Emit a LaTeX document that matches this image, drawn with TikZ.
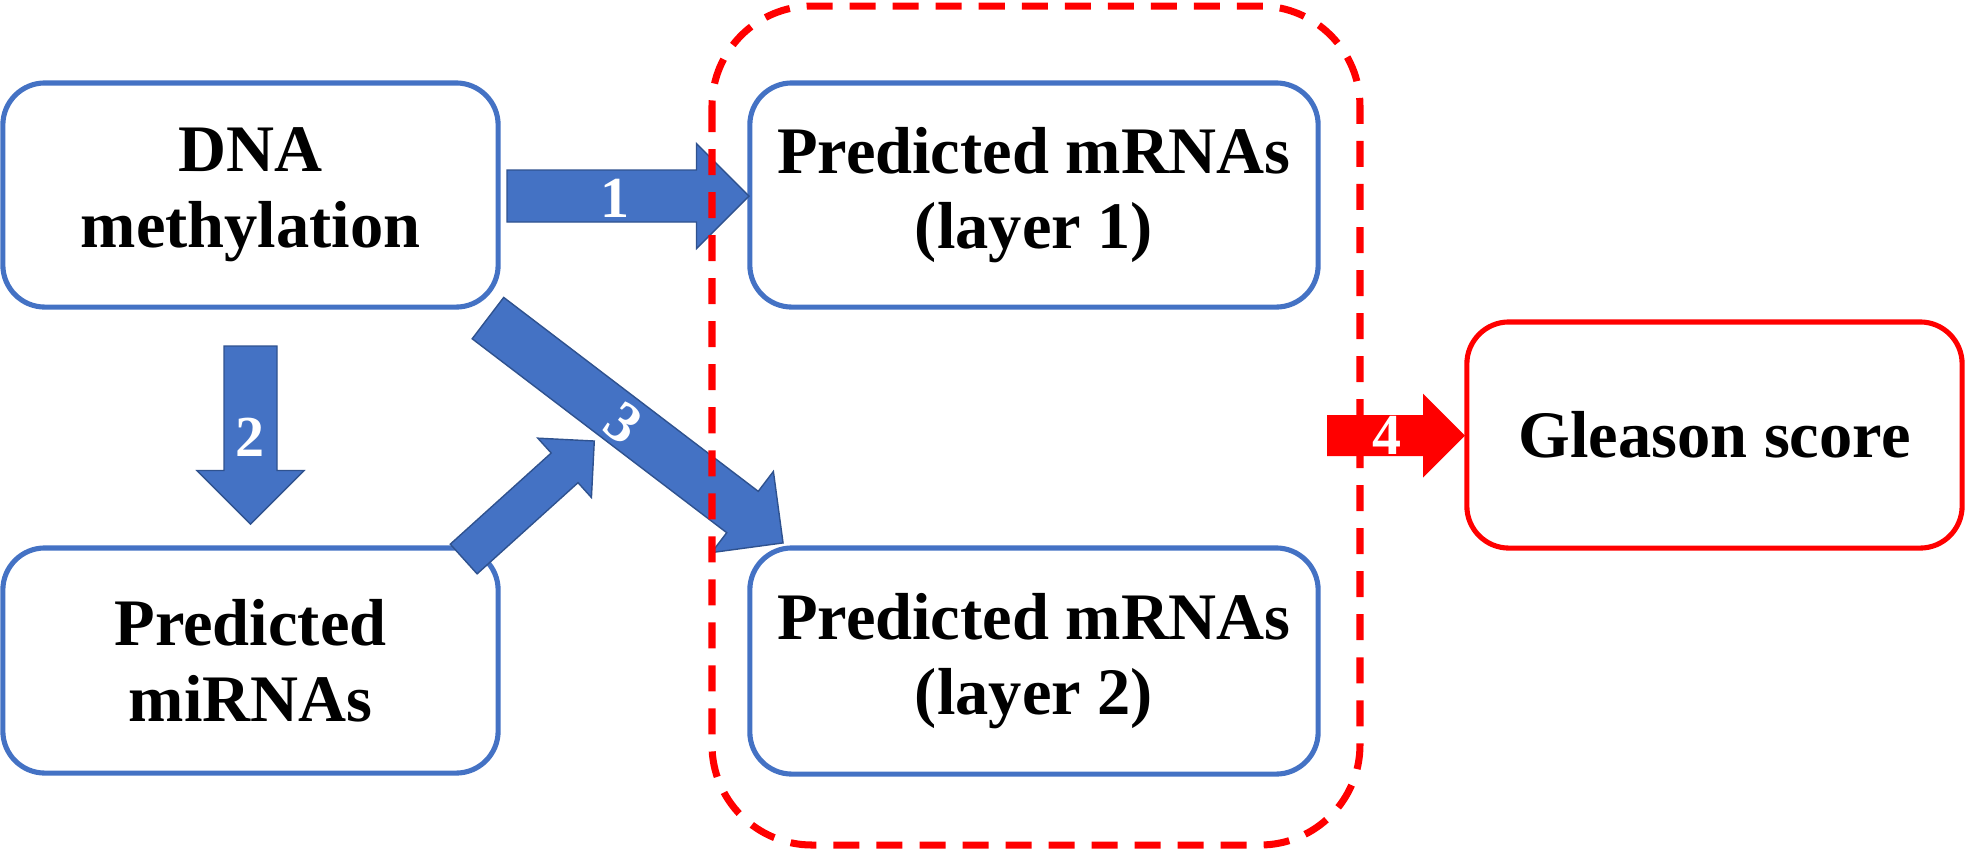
\documentclass[tikz,border=0pt]{standalone}
\usepackage{fontspec}
\setmainfont{Liberation Serif}
\definecolor{boxblue}{HTML}{4472C4}
\definecolor{arrowedge}{HTML}{2F528F}
\definecolor{pptred}{HTML}{FF0000}
\newcommand{\barrow}[7]{% style, cx, cy, angle, length, shaft, head
  \begin{scope}[shift={(#2,#3)},rotate=#4]
    \path[#1] ({-#5/2},{-#6/2}) -- ({#5/2-#7/2},{-#6/2}) -- ({#5/2-#7/2},{-#7/2})
      -- ({#5/2},0) -- ({#5/2-#7/2},{#7/2}) -- ({#5/2-#7/2},{#6/2}) -- ({-#5/2},{#6/2}) -- cycle;
  \end{scope}}
\begin{document}
\begin{tikzpicture}[x=0.01cm,y=-0.01cm,
  txt/.style={font=\bfseries\fontsize{18.9}{21.5}\selectfont, align=center, text=black},
  bbox/.style={txt, draw=boxblue, line width=1.45pt, rounded corners=0.42cm, inner sep=0pt},
  rbox/.style={txt, draw=pptred, line width=1.45pt, rounded corners=0.42cm, inner sep=0pt},
  bluearrow/.style={fill=boxblue, draw=arrowedge, line width=0.4pt},
  redarrow/.style={fill=pptred},
  lab/.style={font=\bfseries\fontsize{16.5}{16.5}\selectfont, text=white, inner sep=0pt}]
\useasboundingbox (0,0) rectangle (1965,850);
% boxes
\node[bbox, minimum width=4.95cm, minimum height=2.24cm] (dna) at (250.5,195) {DNA\\methylation};
\node[bbox, minimum width=4.95cm, minimum height=2.25cm] (mirna) at (250.5,660.5) {Predicted\\miRNAs};
\node[bbox, minimum width=5.68cm, minimum height=2.24cm] (m1) at (1034,195) {Predicted mRNAs\\(layer 1)};
\node[bbox, minimum width=5.68cm, minimum height=2.26cm] (m2) at (1034,661) {Predicted mRNAs\\(layer 2)};
\node[rbox, minimum width=4.95cm, minimum height=2.26cm] (gs) at (1714.5,435) {Gleason score};
% block arrows
\barrow{bluearrow}{628}{196}{0}{242}{52}{105}
\barrow{bluearrow}{250.5}{435}{-90}{178}{53}{107}
\barrow{bluearrow}{635.5}{430.5}{-37.3}{371}{52}{102}
\barrow{bluearrow}{529}{500}{42.1}{176}{40}{80}
\barrow{redarrow}{1396}{435.5}{0}{138}{41}{84}
% dashed group
\draw[pptred, line width=2pt, dash pattern=on 0.26cm off 0.17cm, rounded corners=1cm] (712,6) rectangle (1360,845);
% labels
\node[lab] (l1) at (615,198) {1};
\node[lab] (l2) at (250,437) {2};
\node[lab, rotate=-37] (l3) at (623,423) {3};
\node[lab] (l4) at (1387,435) {4};
\end{tikzpicture}
\end{document}
